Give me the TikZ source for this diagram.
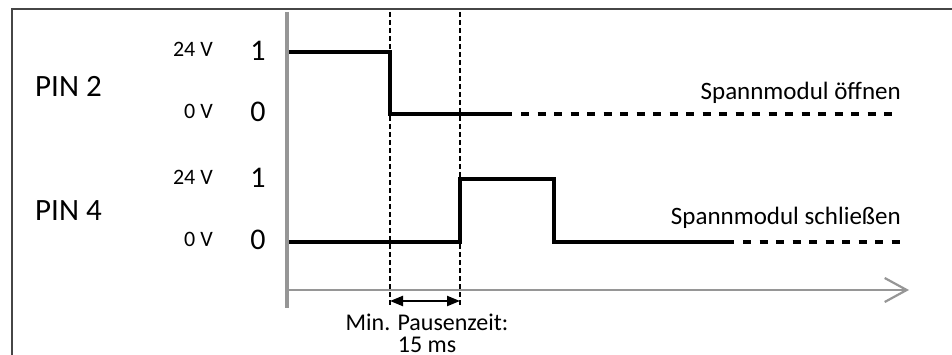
\documentclass[tikz,border=0pt]{standalone}
\usepackage{fontspec}
\setmainfont{Carlito}
\usetikzlibrary{arrows.meta, positioning}
\definecolor{axisgray}{RGB}{150,150,150}
\definecolor{framegray}{RGB}{70,70,70}

\begin{document}
\begin{tikzpicture}[
    x=1pt, y=-1pt,
    every node/.style={inner sep=0pt},
    pinlabel/.style={anchor=base west, font=\fontsize{31}{33}\selectfont},
    volt/.style={anchor=base east, font=\fontsize{22}{24}\selectfont},
    level/.style={anchor=base, font=\fontsize{30}{32}\selectfont},
    note/.style={anchor=base east, font=\fontsize{25}{27}\selectfont},
    signal/.style={line width=3.2pt, line join=miter},
    tail/.style={line width=3.2pt, dash pattern=on 8pt off 8.5pt},
    marker/.style={line width=2.8pt, dash pattern=on 5pt off 3pt},
    axis/.style={draw=axisgray, line width=2.2pt},
    arrow/.style={{Triangle[length=13pt,width=10pt]}-{Triangle[length=13pt,width=10pt]}, line width=2.2pt}
]
\useasboundingbox (0,0) rectangle (952,355);

% Frame
\draw[framegray, line width=1.6pt] (12,360) -- (12,9) -- (960,9);

% Nodes
\node[pinlabel] (pin2) at (35,97) {PIN 2};
\node[pinlabel] (pin4) at (35,221) {PIN 4};
\node[volt] (hiA) at (213,57) {24 V};
\node[volt] (loA) at (213,119) {0 V};
\node[volt] (hiB) at (213,185) {24 V};
\node[volt] (loB) at (213,247) {0 V};
\node[level] (oneA) at (258,61) {1};
\node[level] (zeroA) at (258,122) {0};
\node[level] (oneB) at (258,188) {1};
\node[level] (zeroB) at (258,249) {0};
\node[note] (open) at (901,100) {Spannmodul öffnen};
\node[note] (close) at (901,225) {Spannmodul schließen};
\node[align=center, anchor=base, font=\fontsize{24}{22}\selectfont] (pause) at (427,352) {Min. Pausenzeit:\\15 ms};

% Coordinates
\coordinate (origin) at (287,290);
\coordinate (ytop) at (287,12);
\coordinate (ybot) at (287,308);
\coordinate (xend) at (909,290);
\coordinate (mA) at (390,12);
\coordinate (mA') at (390,307);
\coordinate (mB) at (460,12);
\coordinate (mB') at (460,307);
\coordinate (dA) at (390,301);
\coordinate (dB) at (460,301);

% Axes
\draw[axis, line width=3.3pt] (ytop) -- (ybot);
\draw[axis, -{Straight Barb[length=22pt,width=24pt,line width=2.2pt]}] (origin) -- (xend);

% Signals
\draw[signal] (289,52) -- (390,52) -- (390,114) -- (512,114);
\draw[tail] (521,114) -- (897,114);
\draw[signal] (289,242) -- (460,242) -- (460,179) -- (554,179) -- (554,242) -- (734,242);
\draw[tail] (743,242) -- (900,242);

% Markers
\draw[marker] (mA) -- (mA');
\draw[marker] (mB) -- (mB');
\draw[arrow] (dA) -- (dB);

\end{tikzpicture}
\end{document}
